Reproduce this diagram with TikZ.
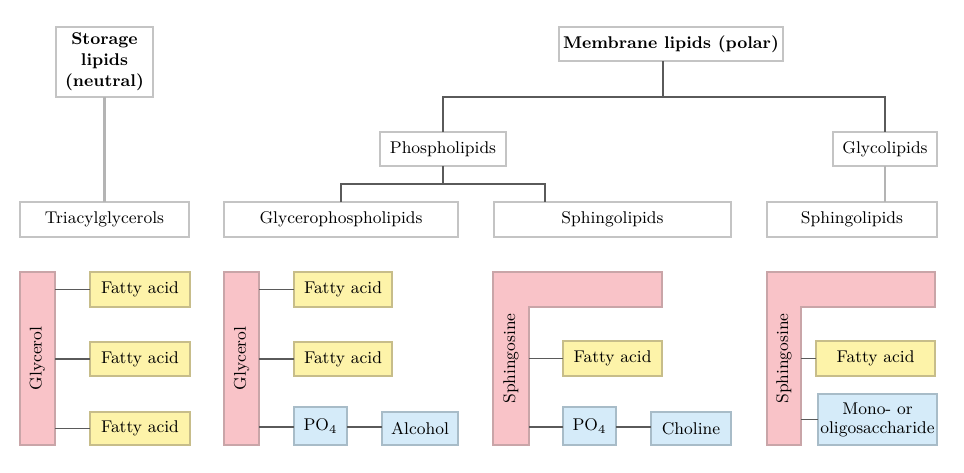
\documentclass[tikz,border=0pt]{standalone}
\usetikzlibrary{calc}
\definecolor{pinkfill}{HTML}{F9C3C8}
\definecolor{pinkline}{HTML}{C9A5A8}
\definecolor{yelfill}{HTML}{FDF3A9}
\definecolor{yelline}{HTML}{C7BD8A}
\definecolor{bluefill}{HTML}{D5EBF9}
\definecolor{blueline}{HTML}{A8BCC8}
\definecolor{boxline}{HTML}{C4C4C4}
\definecolor{darkconn}{HTML}{5A5A5A}
\definecolor{lightconn}{HTML}{B4B4B4}
\tikzset{
  base/.style={inner sep=0pt, outer sep=0pt, align=center, font=\fontsize{8.5}{9.5}\selectfont, line width=0.6pt},
  whitebox/.style={base, draw=boxline, fill=white},
  titlebox/.style={whitebox, font=\fontsize{8.5}{10.5}\selectfont\bfseries},
  yelbox/.style={base, draw=yelline, fill=yelfill},
  bluebox/.style={base, draw=blueline, fill=bluefill},
  barbox/.style={base, draw=pinkline, fill=pinkfill},
  barlabel/.style={base, rotate=90},
  dconn/.style={draw=darkconn, line width=0.6pt},
  lconn/.style={draw=lightconn, line width=1.3pt}
}
\begin{document}
\begin{tikzpicture}[x=0.5pt, y=-0.5pt]
\useasboundingbox[fill=white] (0,0) rectangle (964,472);

% top level
\node[titlebox, minimum width=48.5pt, minimum height=35pt] (storage) at (104.5,62) {Storage\\lipids\\(neutral)};
\node[titlebox, minimum width=112pt, minimum height=17pt] (membrane) at (671,44) {Membrane lipids (polar)};

% second level
\node[whitebox, minimum width=63pt, minimum height=17pt] (phospho) at (443,149) {Phospholipids};
\node[whitebox, minimum width=52pt, minimum height=17pt] (glyco) at (885,149) {Glycolipids};

% third level
\node[whitebox, minimum width=84.5pt, minimum height=17.5pt] (tri) at (104.5,219.5) {Triacylglycerols};
\node[whitebox, minimum width=117pt, minimum height=17.5pt] (gpl) at (341,219.5) {Glycerophospholipids};
\node[whitebox, minimum width=118.5pt, minimum height=17.5pt] (sph1) at (612.5,219.5) {Sphingolipids};
\node[whitebox, minimum width=85pt, minimum height=17.5pt] (sph2) at (852,219.5) {Sphingolipids};

% tree connectors
\coordinate (mtop) at (663,97);
\coordinate (pbranch) at (443,184);
\coordinate (sph1top) at (545,202);
\draw[lconn] (storage.south) -- (tri.north);
\draw[dconn] ([xshift=-4pt]membrane.south) -- (mtop);
\draw[dconn] (phospho.north) |- (mtop) -| (glyco.north);
\draw[dconn] (phospho.south) -- (pbranch);
\draw[dconn] (gpl.north) |- (pbranch) -| (sph1top);
\draw[lconn] (glyco.south) -- (glyco.south |- sph2.north);

% ---- Triacylglycerol structure
\node[barbox, minimum width=17.5pt, minimum height=86.5pt] (gly1) at (37.5,358.5) {};
\node[barlabel] (gly1t) at (gly1.center) {Glycerol};
\node[yelbox, minimum width=50pt, minimum height=17.5pt] (fa1a) at (140,289.5) {Fatty acid};
\node[yelbox, minimum width=50pt, minimum height=17pt] (fa1b) at (140,359) {Fatty acid};
\node[yelbox, minimum width=50pt, minimum height=16.5pt] (fa1c) at (140,428.5) {Fatty acid};
\draw[dconn] (fa1a.west -| gly1.east) -- (fa1a.west);
\draw[dconn] (fa1b.west -| gly1.east) -- (fa1b.west);
\draw[dconn] (fa1c.west -| gly1.east) -- (fa1c.west);

% ---- Glycerophospholipid structure
\node[barbox, minimum width=17.5pt, minimum height=86.5pt] (gly2) at (241.5,358.5) {};
\node[barlabel] (gly2t) at (gly2.center) {Glycerol};
\node[yelbox, minimum width=49pt, minimum height=17.5pt] (fa2a) at (343,289.5) {Fatty acid};
\node[yelbox, minimum width=49pt, minimum height=17pt] (fa2b) at (343,359) {Fatty acid};
\node[bluebox, minimum width=26.5pt, minimum height=19pt] (po4a) at (320.5,426) {PO$_4$};
\node[bluebox, minimum width=38pt, minimum height=16.5pt] (alc) at (420,428.5) {Alcohol};
\draw[dconn] (fa2a.west -| gly2.east) -- (fa2a.west);
\draw[dconn] (fa2b.west -| gly2.east) -- (fa2b.west);
\draw[dconn] ([yshift=-0.5pt]po4a.west -| gly2.east) -- ([yshift=-0.5pt]po4a.west);
\draw[dconn] ([yshift=-0.5pt]po4a.east) -- ([yshift=-0.5pt]po4a.east -| alc.west);

% ---- Sphingolipid (phospho) structure
\filldraw[fill=pinkfill, draw=pinkline, line width=0.6pt]
  (493,272) -- (662,272) -- (662,307) -- (529,307) -- (529,445) -- (493,445) -- cycle;
\node[base, minimum width=18pt, minimum height=69pt] (sv1) at (511,358.5) {};
\node[barlabel] (sv1t) at (sv1.center) {Sphingosine};
\node[yelbox, minimum width=49.5pt, minimum height=17.5pt] (fa3) at (612.5,358.5) {Fatty acid};
\node[bluebox, minimum width=26.5pt, minimum height=19pt] (po4b) at (589.5,426) {PO$_4$};
\node[bluebox, minimum width=40pt, minimum height=16.5pt] (chol) at (691,428.5) {Choline};
\draw[dconn] (fa3.west -| sv1.east) -- (fa3.west);
\draw[dconn] ([yshift=-0.5pt]po4b.west -| sv1.east) -- ([yshift=-0.5pt]po4b.west);
\draw[dconn] ([yshift=-0.5pt]po4b.east) -- ([yshift=-0.5pt]po4b.east -| chol.west);

% ---- Glycolipid structure
\filldraw[fill=pinkfill, draw=pinkline, line width=0.6pt]
  (767,272) -- (935,272) -- (935,307) -- (801,307) -- (801,445) -- (767,445) -- cycle;
\node[base, minimum width=17pt, minimum height=69pt] (sv2) at (784,358.5) {};
\node[barlabel] (sv2t) at (sv2.center) {Sphingosine};
\node[yelbox, minimum width=59.5pt, minimum height=17.5pt] (fa4) at (875.5,358.5) {Fatty acid};
\node[bluebox, minimum width=59.5pt, minimum height=25.5pt] (mono) at (877.5,419.5) {Mono- or\\oligosaccharide};
\draw[dconn] (fa4.west -| sv2.east) -- (fa4.west);
\draw[dconn] (mono.west -| sv2.east) -- (mono.west);
\end{tikzpicture}
\end{document}
